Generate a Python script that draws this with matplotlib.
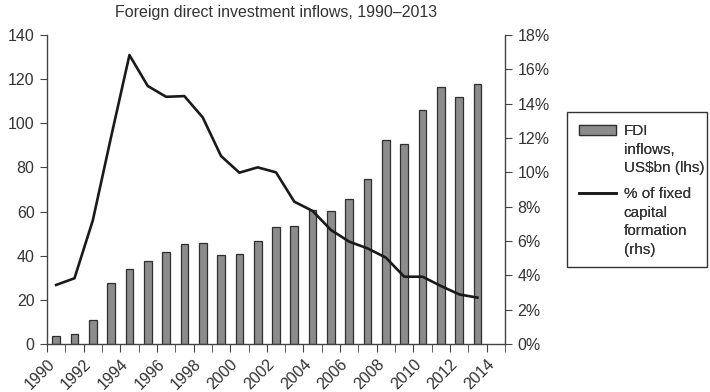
import numpy as np
import matplotlib.pyplot as plt
from matplotlib.patches import Patch, Rectangle
from matplotlib.lines import Line2D

plt.rcParams['font.family'] = ['Liberation Sans', 'DejaVu Sans']

years = np.arange(1990, 2014)

# FDI inflows, US$bn
fdi_inflows = [3.5, 4.4, 11.0, 27.5, 33.8, 37.6, 41.8, 45.3, 45.6, 40.3, 40.8, 46.8,
               52.9, 53.6, 60.7, 60.4, 65.8, 74.8, 92.4, 90.4, 106.0, 116.3, 111.8, 117.8]

# FDI as % of fixed capital formation
pct_fixed_capital = [3.44, 3.83, 7.2, 12.07, 16.83, 15.03, 14.4, 14.44, 13.2, 10.95, 9.98, 10.29,
                     10.0, 8.29, 7.75, 6.64, 5.96, 5.57, 5.03, 3.92, 3.92, 3.38, 2.89, 2.70]

txt_col = '#333333'
spine_col = '#444444'
bar_col = '#8c8c8c'
bar_edge = '#2e2e2e'
line_col = '#1a1a1a'

W, H = 710, 392
fig = plt.figure(figsize=(W / 100, H / 100), dpi=100)
ax = fig.add_axes([47/W, 1 - 344/H, 458/W, 309/H])
ax2 = ax.twinx()

# bars on the left axis, centred in each year slot
ax.bar(years + 0.5, fdi_inflows, width=0.42, color=bar_col, edgecolor=bar_edge, linewidth=0.9)
ax.set_ylim(0, 140)
ax.set_xlim(1990, 2015)
ax.set_yticks(range(0, 141, 20))

ax.set_xticks(np.arange(1990, 2016), minor=True)
ax.set_xticks(np.arange(1990, 2015, 2))
ax.set_xticklabels([str(y) for y in range(1990, 2015, 2)], rotation=45, ha='right',
                   rotation_mode='anchor')

# line on the right axis
ax2.plot(years + 0.5, pct_fixed_capital, color=line_col, linewidth=1.9)
ax2.set_ylim(0, 18)
ax2.set_yticks(range(0, 19, 2))
ax2.set_yticklabels([f'{v}%' for v in range(0, 19, 2)])

for a in (ax, ax2):
    a.spines['top'].set_visible(False)
    for s in a.spines.values():
        s.set_color(spine_col)
        s.set_linewidth(1.0)
ax.spines['right'].set_visible(False)
ax2.spines['left'].set_visible(False)
ax2.spines['bottom'].set_visible(False)

ax.tick_params(axis='y', direction='out', length=5, colors=spine_col, labelcolor=txt_col,
               labelsize=11.5, pad=4)
ax.tick_params(axis='x', which='both', direction='out', length=6, colors=spine_col,
               labelcolor=txt_col, labelsize=11.5, pad=3)
ax.tick_params(axis='x', which='minor', labelbottom=False)
ax2.tick_params(axis='y', direction='out', length=5, colors=spine_col, labelcolor=txt_col,
                labelsize=11.5, pad=4)

fig.text(276/W, 1 - 12/H, 'Foreign direct investment inflows, 1990\u20132013',
         ha='center', va='center', fontsize=11.5, color=txt_col)

# legend: two frameless legends inside one box, one row per text line
# so each key sits level with the first line of its label
blank = Patch(visible=False)
groups = [
    ([Patch(facecolor=bar_col, edgecolor=bar_edge, linewidth=0.9), blank, blank],
     ['FDI', 'inflows,', 'US\\$bn (lhs)'], 112),
    ([Line2D([], [], color=line_col, linewidth=1.9), blank, blank, blank],
     ['% of fixed', 'capital', 'formation', '(rhs)'], 175),
]
for handles, labels, top in groups:
    leg = fig.legend(handles, labels, loc='upper left', bbox_to_anchor=(567/W, 1 - top/H),
                     borderaxespad=0, frameon=False, fontsize=11, labelspacing=0.3,
                     handlelength=2.4, handleheight=0.6, handletextpad=0.5, borderpad=0.8,
                     labelcolor=txt_col)
    fig.add_artist(leg)

fig.add_artist(Rectangle((567/W, 1 - 267/H), 140/W, 155/H, transform=fig.transFigure,
                         fill=False, edgecolor='#333333', linewidth=1.0))

plt.savefig('out.png', dpi=100)
